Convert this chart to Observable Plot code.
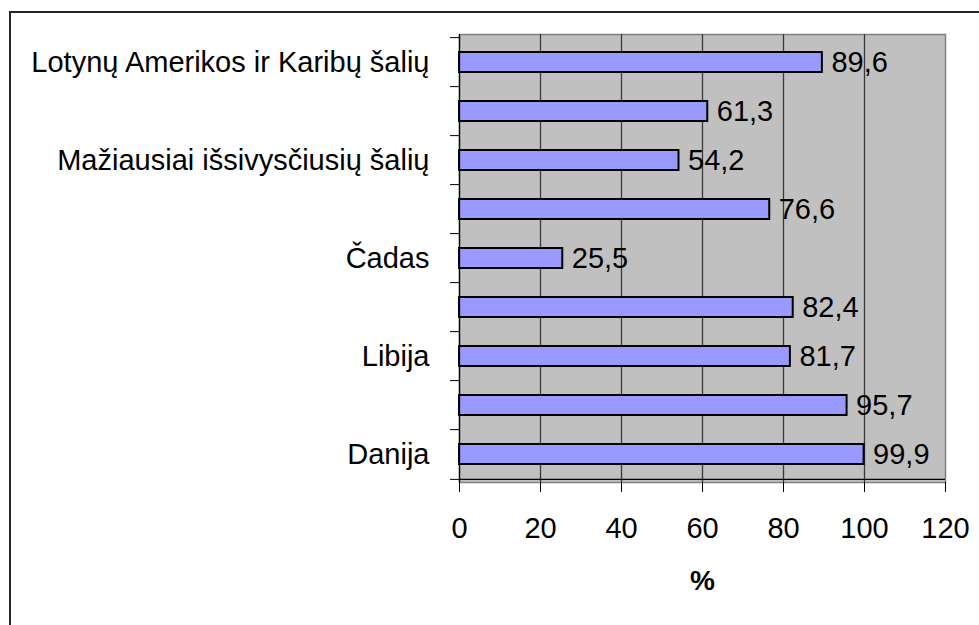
<!DOCTYPE html>
<html><head><meta charset="utf-8">
<script src="https://cdn.jsdelivr.net/npm/d3@7"></script>
<script src="https://cdn.jsdelivr.net/npm/@observablehq/plot@0.6"></script>
<style>
html,body{margin:0;padding:0;background:#fff;overflow:hidden;width:979px;height:625px}
#chart{position:absolute;left:0;top:0}
#border{position:absolute;left:9px;top:11px;width:1100px;height:800px;border:2px solid #262626;box-sizing:border-box}
</style></head><body>
<div id="border"></div>
<div id="chart"></div>
<script>
// Category tick labels as shown (blank where the original skipped the label)
const categories = ["Lotynų Amerikos ir Karibų šalių", "", "Mažiausiai išsivysčiusių šalių", "", "Čadas", "", "Libija", "", "Danija"];
const values = [89.6, 61.3, 54.2, 76.6, 25.5, 82.4, 81.7, 95.7, 99.9];
const xTicks = [0, 20, 40, 60, 80, 100, 120];
const xLabel = "%";

const data = values.map((v, i) => ({i, label: categories[i], value: v}));

const W = 979, H = 625, mL = 459, mR = 34, mT = 34, mB = 143;
const n = values.length;
const step = (H - mT - mB) / n;
const FS = 29;

const chart = Plot.plot({
  width: W, height: H,
  marginLeft: mL, marginRight: mR, marginTop: mT, marginBottom: mB,
  style: {fontFamily: "'Liberation Sans', Arial, sans-serif", fontSize: FS + "px", color: "#000", background: "transparent", overflow: "visible"},
  x: {domain: [xTicks[0], xTicks[xTicks.length - 1]]},
  y: {domain: d3.range(n), paddingInner: 0.6, paddingOuter: 0.3},
  marks: [
    Plot.frame({fill: "#c0c0c0", stroke: "#808080", strokeWidth: 1.5}),
    Plot.ruleX(xTicks.slice(1, -1), {stroke: "#3a3a3a", strokeWidth: 1.3}),
    Plot.barX(data, {y: "i", x: "value", fill: "#9999ff", stroke: "#000", strokeWidth: 2}),
    Plot.text(data, {y: "i", x: "value", text: d => d.value.toFixed(1).replace(".", ","), textAnchor: "start", dx: 9, fontSize: FS, fill: "#000"}),
    Plot.ruleX([0], {stroke: "#000", strokeWidth: 1.3}),
    Plot.ruleY([n - 1], {y: d => d, dy: step / 2, stroke: "#000", strokeWidth: 1.3}),
    Plot.axisY({tickSize: 0, tickPadding: 30, tickFormat: i => categories[i], fontSize: FS, label: null}),
    Plot.axisY({tickSize: 9, tickFormat: () => "", dy: -step / 2, label: null}),
    Plot.axisY([n - 1], {tickSize: 9, tickFormat: () => "", dy: step / 2, label: null}),
    Plot.axisX(xTicks, {tickSize: 10, tickPadding: 25, fontSize: FS, label: null}),
    Plot.text([xLabel], {frameAnchor: "bottom", dy: 107, fontWeight: "bold", fontSize: 28, fill: "#000"})
  ]
});
document.getElementById("chart").appendChild(chart);
</script>
</body></html>
